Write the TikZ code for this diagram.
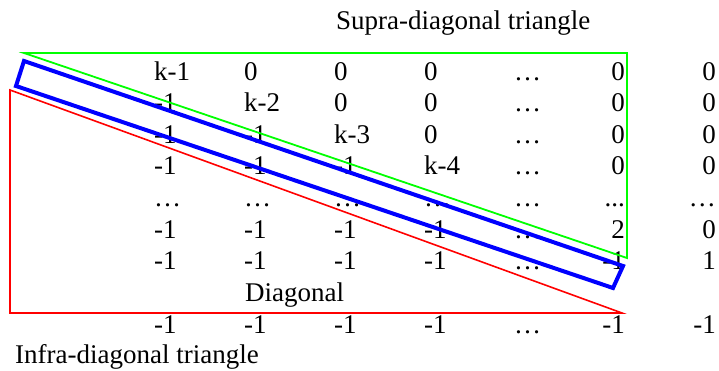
\documentclass[tikz,border=0pt]{standalone}
\usepackage{fontspec}
\setmainfont{Liberation Serif}
\newfontfamily\matfont{Liberation Serif}
\usetikzlibrary{positioning}

\newcommand{\pdots}{...}

\begin{document}
\begin{tikzpicture}[
    x=1pt, y=-1pt,
    txt/.style={inner sep=0pt, font=\matfont\fontsize{27}{30}\selectfont},
    cell/.style={txt, anchor=base west},
    cell right/.style={txt, anchor=base east},
    supra/.style={draw=green, line width=1.8pt},
    diag/.style={draw=blue, line width=4pt},
    infra/.style={draw=red, line width=1.6pt},
]
\useasboundingbox (0,0) rectangle (719,371);

% === Matrix entries ===
\foreach \y/\a/\b/\c/\d/\e/\f [count=\r] in {
    80.5/k-1/0/0/0/0/0,
    112/-1/k-2/0/0/0/0,
    143.5/-1/-1/k-3/0/0/0,
    175/-1/-1/-1/k-4/0/0,
    206.5/…/…/…/…/\pdots/…,
    238/-1/-1/-1/-1/2/0,
    269.5/-1/-1/-1/-1/-1/1,
    333/-1/-1/-1/-1/-1/-1} {
    \node[cell] (m\r-1) at (154,\y) {\a};
    \node[cell] (m\r-2) at (244,\y) {\b};
    \node[cell] (m\r-3) at (334,\y) {\c};
    \node[cell] (m\r-4) at (424,\y) {\d};
    \node[cell] (m\r-5) at (514,\y) {…};
    \node[cell right] (m\r-6) at (625,\y) {\e};
    \node[cell right] (m\r-7) at (716,\y) {\f};
}

% Labels
\node[cell] (supra label) at (336,30) {Supra-diagonal triangle};
\node[cell] (diag label) at (245,301.7) {Diagonal};
\node[cell] (infra label) at (15,363) {Infra-diagonal triangle};

% === Triangles and diagonal band ===
\draw[supra] (24,53) -- (627,53) -- (627,258) -- cycle;
\draw[infra] (10,90) -- (622,313) -- (10,313) -- cycle;
\draw[diag] (24,61) -- (623,266) -- (613,288) -- (16,86) -- cycle;

\end{tikzpicture}
\end{document}
